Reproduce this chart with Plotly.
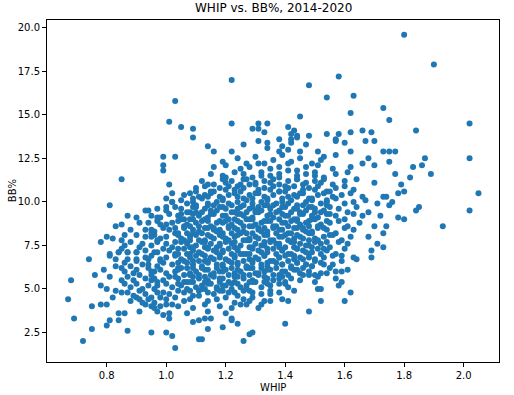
import plotly.graph_objects as go

# (WHIP, BB%) pairs, grouped by region of the cloud
top_pts = [
    [1.80, 19.6], [1.90, 17.9], [1.58, 17.2], [1.22, 17.0], [1.48, 16.7], [1.63, 16.1],
    [1.54, 16.0], [1.03, 15.8], [1.73, 15.4], [1.62, 15.1], [1.45, 14.9], [1.75, 14.7],
    [1.01, 14.6], [1.22, 14.5], [1.31, 14.5], [1.34, 14.5], [2.02, 14.5], [1.05, 14.3],
    [1.41, 14.3], [1.09, 14.2], [1.29, 14.2], [1.31, 14.2], [1.43, 14.1], [1.66, 14.1],
    [1.84, 14.1], [1.33, 14.0], [1.62, 14.0], [1.69, 14.0], [1.54, 13.9], [1.58, 13.9],
    [1.42, 13.9], [1.44, 13.8], [1.48, 13.8], [1.09, 13.7], [1.42, 13.6], [1.57, 13.6],
    [1.38, 13.6], [1.44, 13.7], [1.31, 13.5], [1.34, 13.4], [1.42, 13.4], [1.57, 13.5],
    [1.60, 13.4], [1.67, 13.5], [1.70, 13.5], [1.34, 13.1], [1.14, 13.2], [1.16, 12.9],
    [1.22, 12.9], [1.26, 13.3], [1.39, 13.2], [1.47, 13.3], [1.51, 12.9], [1.53, 12.6],
    [1.57, 12.7], [1.62, 12.9], [1.73, 12.9], [1.75, 12.9], [1.77, 12.9], [1.38, 12.9],
    [1.41, 13.0], [1.45, 12.9], [0.99, 12.6], [1.03, 12.6], [1.68, 12.5], [1.87, 12.5],
    [2.02, 12.5], [1.75, 12.3], [0.99, 12.1], [1.70, 12.1], [1.83, 12.0], [1.86, 12.1],
    [0.99, 11.8], [1.77, 11.6], [1.82, 11.4], [1.89, 11.6], [1.70, 11.1], [1.79, 11.0],
    [1.80, 10.6], [1.78, 10.5], [2.05, 10.5], [1.73, 10.3], [1.74, 10.3], [1.76, 10.0],
    [1.71, 9.9], [1.75, 9.8], [1.85, 9.7], [1.84, 9.5], [2.02, 9.5], [1.68, 9.4],
    [1.72, 9.2], [1.78, 9.1], [1.80, 9.0], [1.74, 8.6], [1.93, 8.6], [1.70, 8.6],
    [1.73, 8.2], [1.68, 8.0], [1.71, 7.6], [1.73, 7.4], [1.69, 7.2], [1.69, 6.8],
]

core_upper = [
    [1.19, 12.3], [1.24, 12.5], [1.27, 12.2], [1.30, 12.6], [1.33, 12.2], [1.36, 12.4],
    [1.39, 12.7], [1.42, 12.3], [1.45, 12.5], [1.49, 12.2], [1.52, 12.4],
    [1.16, 12.0], [1.20, 12.1], [1.25, 11.9], [1.28, 12.0], [1.31, 12.2], [1.35, 11.9],
    [1.38, 12.0], [1.41, 12.2], [1.44, 11.8], [1.47, 12.0], [1.51, 12.1], [1.56, 11.9],
    [1.62, 12.0], [1.66, 12.2],
    [1.15, 11.6], [1.19, 11.5], [1.23, 11.7], [1.26, 11.6], [1.29, 11.4], [1.32, 11.7],
    [1.35, 11.5], [1.38, 11.6], [1.41, 11.8], [1.44, 11.5], [1.47, 11.6], [1.50, 11.7],
    [1.53, 11.4], [1.57, 11.6], [1.61, 11.7],
    [1.12, 11.2], [1.16, 11.0], [1.19, 11.3], [1.22, 11.2], [1.25, 11.0], [1.27, 11.3],
    [1.30, 11.1], [1.33, 11.2], [1.36, 11.3], [1.38, 11.0], [1.41, 11.2], [1.44, 11.3],
    [1.47, 11.1], [1.50, 11.2], [1.53, 11.3], [1.56, 11.0], [1.60, 11.2], [1.64, 11.3],
    [1.10, 10.8], [1.13, 10.9], [1.15, 10.6], [1.18, 10.8], [1.21, 10.9], [1.23, 10.7],
    [1.26, 10.8], [1.28, 11.0], [1.31, 10.7], [1.33, 10.8], [1.36, 10.9], [1.38, 10.6],
    [1.41, 10.8], [1.43, 10.9], [1.46, 10.7], [1.48, 10.8], [1.51, 10.9], [1.54, 10.6],
    [1.57, 10.8], [1.60, 10.9], [1.63, 10.7],
    [1.06, 10.4], [1.08, 10.5], [1.11, 10.3], [1.13, 10.4], [1.16, 10.6], [1.18, 10.3],
    [1.21, 10.4], [1.23, 10.5], [1.26, 10.2], [1.28, 10.4], [1.31, 10.5], [1.33, 10.3],
    [1.36, 10.4], [1.38, 10.6], [1.41, 10.3], [1.43, 10.4], [1.46, 10.5], [1.48, 10.2],
    [1.51, 10.4], [1.53, 10.5], [1.56, 10.3], [1.59, 10.4], [1.62, 10.5], [1.66, 10.3],
    [1.01, 11.0], [1.00, 10.2], [1.02, 10.5], [1.02, 10.0], [1.00, 9.7],
]

core_mid = [
    [1.02, 10.0], [1.05, 10.1], [1.07, 9.9], [1.09, 10.0], [1.12, 10.2], [1.14, 9.9],
    [1.17, 10.0], [1.19, 10.1], [1.22, 9.8], [1.24, 10.0], [1.27, 10.1], [1.29, 9.9],
    [1.32, 10.0], [1.34, 10.2], [1.37, 9.9], [1.39, 10.0], [1.42, 10.1], [1.44, 9.8],
    [1.47, 10.0], [1.49, 10.1], [1.52, 9.9], [1.54, 10.0], [1.57, 10.2], [1.60, 9.9],
    [1.63, 10.0], [1.67, 10.1],
    [0.97, 9.6], [1.00, 9.5], [1.03, 9.7], [1.05, 9.6], [1.08, 9.4], [1.10, 9.7],
    [1.13, 9.6], [1.15, 9.5], [1.18, 9.7], [1.20, 9.6], [1.23, 9.4], [1.25, 9.7],
    [1.28, 9.6], [1.30, 9.5], [1.33, 9.8], [1.35, 9.6], [1.38, 9.5], [1.40, 9.7],
    [1.43, 9.6], [1.45, 9.4], [1.48, 9.7], [1.50, 9.6], [1.53, 9.5], [1.55, 9.7],
    [1.58, 9.6], [1.61, 9.4], [1.64, 9.7],
    [0.95, 9.2], [0.98, 9.1], [1.01, 9.3], [1.04, 9.2], [1.06, 9.0], [1.09, 9.3],
    [1.11, 9.2], [1.14, 9.1], [1.16, 9.3], [1.19, 9.2], [1.21, 9.0], [1.24, 9.3],
    [1.26, 9.2], [1.29, 9.1], [1.31, 9.4], [1.34, 9.2], [1.36, 9.1], [1.39, 9.3],
    [1.41, 9.2], [1.44, 9.0], [1.46, 9.3], [1.49, 9.2], [1.51, 9.1], [1.54, 9.3],
    [1.57, 9.2], [1.60, 9.0], [1.63, 9.3], [1.66, 9.2],
    [0.94, 8.8], [0.97, 8.9], [1.00, 8.7], [1.02, 8.8], [1.05, 9.0], [1.07, 8.7],
    [1.10, 8.8], [1.12, 8.9], [1.15, 8.6], [1.17, 8.8], [1.20, 8.9], [1.22, 8.7],
    [1.25, 8.8], [1.27, 9.0], [1.30, 8.7], [1.32, 8.8], [1.35, 8.9], [1.37, 8.6],
    [1.40, 8.8], [1.42, 8.9], [1.45, 8.7], [1.47, 8.8], [1.50, 9.0], [1.52, 8.7],
    [1.55, 8.8], [1.58, 8.9], [1.61, 8.6], [1.65, 8.8],
    [0.93, 8.4], [0.96, 8.3], [0.99, 8.5], [1.01, 8.4], [1.04, 8.2], [1.06, 8.5],
    [1.09, 8.4], [1.11, 8.3], [1.14, 8.5], [1.16, 8.4], [1.19, 8.2], [1.21, 8.5],
    [1.24, 8.4], [1.26, 8.3], [1.29, 8.6], [1.31, 8.4], [1.34, 8.3], [1.36, 8.5],
    [1.39, 8.4], [1.41, 8.2], [1.44, 8.5], [1.46, 8.4], [1.49, 8.3], [1.51, 8.5],
    [1.54, 8.4], [1.57, 8.2], [1.60, 8.5], [1.63, 8.4],
    [0.93, 8.0], [0.96, 8.1], [0.98, 7.9], [1.00, 8.0], [1.03, 8.2], [1.05, 7.9],
    [1.08, 8.0], [1.10, 8.1], [1.13, 7.8], [1.15, 8.0], [1.18, 8.1], [1.20, 7.9],
    [1.23, 8.0], [1.25, 8.2], [1.28, 7.9], [1.30, 8.0], [1.33, 8.1], [1.35, 7.8],
    [1.38, 8.0], [1.40, 8.1], [1.43, 7.9], [1.45, 8.0], [1.48, 8.2], [1.50, 7.9],
    [1.53, 8.0], [1.56, 8.1], [1.59, 7.8], [1.62, 8.0],
    [0.92, 7.6], [0.95, 7.5], [0.97, 7.7], [1.00, 7.6], [1.02, 7.4], [1.05, 7.7],
    [1.07, 7.6], [1.10, 7.5], [1.12, 7.7], [1.15, 7.6], [1.17, 7.4], [1.20, 7.7],
    [1.22, 7.6], [1.25, 7.5], [1.27, 7.8], [1.30, 7.6], [1.32, 7.5], [1.35, 7.7],
    [1.37, 7.6], [1.40, 7.4], [1.42, 7.7], [1.45, 7.6], [1.47, 7.5], [1.50, 7.7],
    [1.52, 7.6], [1.55, 7.4], [1.58, 7.7], [1.61, 7.6],
    [0.93, 7.2], [0.96, 7.1], [0.99, 7.3], [1.01, 7.2], [1.04, 7.0], [1.06, 7.3],
    [1.09, 7.2], [1.11, 7.1], [1.14, 7.4], [1.16, 7.2], [1.19, 7.1], [1.21, 7.3],
    [1.24, 7.2], [1.26, 7.0], [1.29, 7.3], [1.31, 7.2], [1.34, 7.1], [1.36, 7.3],
    [1.39, 7.2], [1.41, 7.0], [1.44, 7.3], [1.46, 7.2], [1.49, 7.1], [1.51, 7.3],
    [1.54, 7.2], [1.57, 7.0], [1.60, 7.3],
]

core_low = [
    [0.93, 6.8], [0.95, 6.9], [0.98, 6.7], [1.00, 6.8], [1.03, 7.0], [1.05, 6.7],
    [1.08, 6.8], [1.10, 6.9], [1.13, 6.6], [1.15, 6.8], [1.18, 6.9], [1.20, 6.7],
    [1.23, 6.8], [1.25, 7.0], [1.28, 6.7], [1.30, 6.8], [1.33, 6.9], [1.35, 6.6],
    [1.38, 6.8], [1.40, 6.9], [1.43, 6.7], [1.45, 6.8], [1.48, 7.0], [1.50, 6.7],
    [1.53, 6.8], [1.56, 6.9], [1.59, 6.6],
    [0.94, 6.4], [0.97, 6.3], [0.99, 6.5], [1.02, 6.4], [1.04, 6.2], [1.07, 6.5],
    [1.09, 6.4], [1.12, 6.3], [1.14, 6.6], [1.17, 6.4], [1.19, 6.3], [1.22, 6.5],
    [1.24, 6.4], [1.27, 6.2], [1.29, 6.5], [1.32, 6.4], [1.34, 6.3], [1.37, 6.5],
    [1.39, 6.4], [1.42, 6.2], [1.44, 6.5], [1.47, 6.4], [1.49, 6.3], [1.52, 6.5],
    [1.56, 6.4],
    [0.95, 6.0], [0.98, 6.1], [1.00, 5.9], [1.03, 6.0], [1.05, 6.2], [1.08, 5.9],
    [1.10, 6.0], [1.13, 6.1], [1.15, 5.8], [1.18, 6.0], [1.20, 6.1], [1.23, 5.9],
    [1.25, 6.0], [1.28, 6.2], [1.30, 5.9], [1.33, 6.0], [1.35, 6.1], [1.38, 5.8],
    [1.40, 6.0], [1.43, 6.1], [1.45, 5.9], [1.48, 6.0],
    [0.96, 5.6], [0.99, 5.5], [1.01, 5.7], [1.04, 5.6], [1.06, 5.4], [1.09, 5.7],
    [1.11, 5.6], [1.14, 5.5], [1.16, 5.7], [1.19, 5.6], [1.21, 5.4], [1.24, 5.7],
    [1.26, 5.6], [1.29, 5.5], [1.31, 5.8], [1.34, 5.6], [1.36, 5.5], [1.39, 5.7],
    [1.42, 5.6], [1.45, 5.5],
    [0.97, 5.2], [1.00, 5.3], [1.02, 5.1], [1.05, 5.2], [1.07, 5.4], [1.10, 5.1],
    [1.12, 5.2], [1.15, 5.3], [1.17, 5.0], [1.20, 5.2], [1.22, 5.3], [1.25, 5.1],
    [1.27, 5.2], [1.30, 5.4], [1.32, 5.1], [1.35, 5.2], [1.38, 5.3], [1.41, 5.1],
    [0.99, 4.8], [1.01, 4.7], [1.04, 4.9], [1.06, 4.8], [1.09, 4.6], [1.11, 4.9],
    [1.14, 4.8], [1.16, 4.7], [1.19, 4.9], [1.21, 4.8], [1.24, 4.6], [1.26, 4.9],
    [1.29, 4.8], [1.32, 4.7], [1.35, 4.9], [1.38, 4.8],
    [1.00, 4.4], [1.03, 4.5], [1.06, 4.3], [1.08, 4.4], [1.11, 4.6], [1.14, 4.3],
    [1.17, 4.4], [1.20, 4.5], [1.23, 4.2], [1.26, 4.4], [1.29, 4.5], [1.33, 4.3],
    [1.04, 4.0], [1.09, 3.9], [1.13, 4.1], [1.18, 4.0], [1.22, 3.9], [1.27, 4.1],
    [1.31, 3.9], [1.32, 4.1], [1.35, 4.7], [1.28, 4.3], [1.25, 4.1],
]

core_fill = [
    [1.10, 9.8], [1.16, 9.8], [1.21, 9.9], [1.26, 9.8], [1.31, 9.7], [1.36, 9.8],
    [1.41, 9.9], [1.46, 9.8],
    [1.07, 9.4], [1.12, 9.4], [1.17, 9.5], [1.22, 9.4], [1.27, 9.4], [1.32, 9.5],
    [1.37, 9.4], [1.42, 9.4], [1.47, 9.5], [1.52, 9.4],
    [1.08, 9.0], [1.13, 9.0], [1.18, 8.9], [1.23, 9.0], [1.28, 9.0], [1.33, 8.9],
    [1.38, 9.0], [1.43, 9.0], [1.48, 8.9],
    [1.06, 8.6], [1.11, 8.6], [1.16, 8.5], [1.21, 8.6], [1.26, 8.6], [1.31, 8.5],
    [1.36, 8.6], [1.41, 8.6], [1.46, 8.5], [1.51, 8.6],
    [1.07, 8.2], [1.12, 8.2], [1.17, 8.3], [1.22, 8.2], [1.27, 8.2], [1.32, 8.3],
    [1.37, 8.2], [1.42, 8.2], [1.47, 8.3],
    [1.06, 7.8], [1.11, 7.8], [1.16, 7.9], [1.21, 7.8], [1.26, 7.8], [1.31, 7.9],
    [1.36, 7.8], [1.41, 7.8], [1.46, 7.9], [1.51, 7.8],
    [1.08, 7.4], [1.13, 7.4], [1.18, 7.5], [1.23, 7.4], [1.28, 7.4], [1.33, 7.5],
    [1.38, 7.4], [1.43, 7.4], [1.48, 7.5],
    [1.07, 7.0], [1.12, 7.0], [1.17, 7.1], [1.22, 7.0], [1.27, 7.0], [1.32, 7.1],
    [1.37, 7.0], [1.42, 7.0], [1.47, 7.1], [1.52, 7.0],
    [1.06, 6.6], [1.11, 6.6], [1.16, 6.7], [1.21, 6.6], [1.26, 6.6], [1.31, 6.7],
    [1.36, 6.6], [1.41, 6.6], [1.46, 6.7],
    [1.07, 6.2], [1.12, 6.2], [1.17, 6.2], [1.22, 6.2], [1.27, 6.3], [1.32, 6.2],
    [1.37, 6.2], [1.42, 6.3],
    [1.06, 5.8], [1.11, 5.8], [1.16, 5.9], [1.21, 5.8], [1.26, 5.8], [1.31, 5.9],
    [1.36, 5.8], [1.41, 5.8],
    [1.08, 5.4], [1.13, 5.4], [1.18, 5.4], [1.23, 5.4], [1.28, 5.4], [1.33, 5.4],
    [1.07, 5.0], [1.12, 5.0], [1.17, 5.1], [1.22, 5.0], [1.27, 5.0],
]

core_fill2 = [
    [1.20, 11.4], [1.26, 11.3], [1.32, 11.5], [1.38, 11.4], [1.44, 11.3], [1.50, 11.5],
    [1.14, 11.0], [1.20, 11.1], [1.24, 10.9], [1.30, 11.0], [1.35, 11.1], [1.40, 10.9],
    [1.46, 11.0], [1.52, 11.1],
    [1.10, 10.6], [1.15, 10.5], [1.20, 10.7], [1.25, 10.6], [1.30, 10.5], [1.35, 10.7],
    [1.40, 10.6], [1.45, 10.5], [1.50, 10.7], [1.55, 10.6],
    [1.09, 10.2], [1.14, 10.3], [1.19, 10.2], [1.24, 10.3], [1.29, 10.2], [1.34, 10.1],
    [1.39, 10.2], [1.44, 10.3], [1.49, 10.2], [1.54, 10.1],
    [1.09, 9.7], [1.14, 9.8], [1.19, 9.7], [1.24, 9.6], [1.29, 9.7], [1.34, 9.8],
    [1.39, 9.7], [1.44, 9.6], [1.49, 9.7], [1.54, 9.8],
    [1.05, 9.3], [1.10, 9.4], [1.15, 9.3], [1.20, 9.2], [1.25, 9.3], [1.30, 9.4],
    [1.35, 9.3], [1.40, 9.2], [1.45, 9.3], [1.50, 9.4], [1.55, 9.3],
    [1.04, 8.9], [1.09, 9.0], [1.14, 8.9], [1.19, 8.8], [1.24, 8.9], [1.29, 9.0],
    [1.34, 8.9], [1.39, 8.8], [1.44, 8.9], [1.49, 9.0], [1.54, 8.9],
    [1.03, 8.5], [1.08, 8.6], [1.13, 8.5], [1.18, 8.4], [1.23, 8.5], [1.28, 8.6],
    [1.33, 8.5], [1.38, 8.4], [1.43, 8.5], [1.48, 8.6], [1.53, 8.5],
    [1.04, 8.1], [1.09, 8.2], [1.14, 8.1], [1.19, 8.0], [1.24, 8.1], [1.29, 8.2],
    [1.34, 8.1], [1.39, 8.0], [1.44, 8.1], [1.49, 8.2], [1.55, 8.1],
    [1.03, 7.7], [1.08, 7.8], [1.13, 7.7], [1.18, 7.6], [1.23, 7.7], [1.28, 7.8],
    [1.33, 7.7], [1.38, 7.6], [1.43, 7.7], [1.48, 7.8], [1.54, 7.7],
    [1.04, 7.3], [1.09, 7.4], [1.14, 7.3], [1.19, 7.2], [1.24, 7.3], [1.29, 7.4],
    [1.34, 7.3], [1.39, 7.2], [1.44, 7.3], [1.49, 7.4], [1.53, 7.3],
    [1.03, 6.9], [1.08, 7.0], [1.13, 6.9], [1.18, 6.8], [1.23, 6.9], [1.28, 7.0],
    [1.33, 6.9], [1.38, 6.8], [1.43, 6.9], [1.48, 6.8],
    [1.04, 6.5], [1.09, 6.6], [1.14, 6.5], [1.19, 6.4], [1.24, 6.5], [1.29, 6.6],
    [1.34, 6.5], [1.39, 6.4], [1.44, 6.5], [1.50, 6.6],
    [1.04, 6.1], [1.09, 6.2], [1.14, 6.1], [1.19, 6.0], [1.24, 6.1], [1.29, 6.2],
    [1.34, 6.1], [1.39, 6.0], [1.44, 6.1],
    [1.03, 5.7], [1.08, 5.8], [1.13, 5.7], [1.18, 5.6], [1.23, 5.7], [1.28, 5.8],
    [1.33, 5.7], [1.38, 5.6],
    [1.04, 5.3], [1.09, 5.4], [1.14, 5.3], [1.19, 5.2], [1.24, 5.3], [1.29, 5.4],
    [1.34, 5.3],
    [1.08, 4.9], [1.13, 5.0], [1.18, 4.9], [1.23, 4.8], [1.28, 4.9],
]

left_pts = [
    [0.85, 11.3], [0.81, 9.8], [0.93, 9.5], [0.94, 9.5], [0.90, 9.1], [0.97, 9.1],
    [0.83, 8.6], [0.85, 8.7], [0.98, 8.7], [0.80, 8.0], [0.86, 8.1], [0.90, 8.1],
    [0.95, 8.2], [0.95, 8.4], [0.95, 8.0], [0.85, 7.8], [0.97, 7.8], [0.86, 7.5],
    [0.85, 7.3], [0.84, 7.1], [0.91, 7.4], [0.81, 7.0], [0.87, 7.1], [0.90, 7.1],
    [0.97, 7.1], [0.74, 6.7], [0.68, 5.5], [0.67, 4.4], [0.69, 3.3], [0.72, 2.0],
    [0.75, 2.7], [0.75, 4.0], [0.78, 4.1], [0.80, 4.1], [0.80, 2.9], [0.81, 3.2],
    [0.84, 3.2], [0.84, 3.6], [0.86, 3.6], [0.87, 2.6], [0.95, 2.5], [0.91, 3.7],
    [0.80, 5.0], [0.83, 4.9], [0.85, 4.8], [0.81, 5.7], [0.79, 6.1], [0.83, 6.3],
    [0.85, 6.2], [0.81, 6.9], [0.84, 7.1], [0.83, 6.7], [0.87, 7.1], [0.90, 7.1],
    [0.87, 6.7], [0.90, 6.7], [0.90, 4.5], [0.91, 4.4], [0.93, 4.1], [0.95, 4.0],
    [0.96, 3.9], [0.97, 3.7], [0.78, 7.7], [0.82, 7.9], [0.88, 7.7], [0.88, 8.4],
    [0.91, 8.8], [0.87, 9.2], [0.76, 5.8], [0.78, 5.2], [0.82, 4.5],
    [0.86, 6.0], [0.88, 6.3], [0.90, 6.1], [0.92, 6.4], [0.94, 6.2], [0.96, 6.0],
    [0.87, 5.7], [0.89, 5.5], [0.91, 5.8], [0.93, 5.6], [0.95, 5.8], [0.97, 5.4],
    [0.86, 5.3], [0.88, 5.1], [0.90, 5.3], [0.92, 5.0], [0.94, 5.2], [0.96, 5.0],
    [0.87, 4.8], [0.89, 4.6], [0.91, 4.9], [0.93, 4.7], [0.95, 4.5], [0.97, 4.8],
    [0.88, 4.3], [0.92, 4.2], [0.94, 4.4], [0.96, 4.2], [0.98, 4.5], [0.86, 6.5],
    [0.90, 6.6], [0.94, 6.7], [0.98, 6.6], [0.89, 5.9], [0.95, 5.5], [0.85, 5.5],
]

low_pts = [
    [1.03, 1.6], [1.00, 2.5], [1.02, 2.3], [1.11, 2.1], [1.12, 2.1], [1.14, 2.7],
    [1.19, 2.8], [1.09, 3.1], [1.11, 3.2], [1.13, 3.3], [1.15, 3.3], [1.07, 3.6],
    [1.14, 3.7], [1.20, 3.6], [1.22, 3.3], [1.22, 3.2], [1.24, 3.0], [1.26, 2.0],
    [1.28, 2.4], [1.29, 2.5], [0.99, 3.5], [1.01, 3.6], [1.01, 3.3], [0.98, 4.0],
    [1.00, 4.1], [1.02, 4.1], [1.40, 3.0], [1.48, 3.7], [1.39, 4.4], [1.41, 4.3],
    [1.52, 4.3], [1.60, 4.3], [1.62, 4.8], [1.43, 4.9], [1.51, 5.0], [1.52, 5.0],
    [1.50, 5.4], [1.58, 5.2], [1.59, 5.4], [1.57, 5.6], [1.59, 6.0], [1.57, 6.0],
    [1.54, 5.9], [1.55, 6.2], [1.53, 6.4], [1.61, 6.1], [1.63, 6.8], [1.64, 6.7],
    [1.59, 6.9], [1.51, 5.7], [1.52, 5.9], [1.50, 5.8], [1.40, 5.3], [1.40, 5.4],
    [1.46, 5.8], [1.48, 5.8], [1.46, 6.2], [1.47, 6.4], [1.49, 6.3], [1.35, 4.3],
]

pts = top_pts + core_upper + core_mid + core_low + core_fill + core_fill2 + left_pts + low_pts
whip = [p[0] for p in pts]
bb_pct = [p[1] for p in pts]

x_ticks = [0.8, 1.0, 1.2, 1.4, 1.6, 1.8, 2.0]
y_ticks = [2.5, 5.0, 7.5, 10.0, 12.5, 15.0, 17.5, 20.0]

fig = go.Figure(go.Scatter(
    x=whip, y=bb_pct, mode="markers",
    marker=dict(color="#1f77b4", size=6, line=dict(width=0)),
    hoverinfo="skip",
))

axis_common = dict(
    showgrid=False, zeroline=False, showline=True, linecolor="black", linewidth=1,
    mirror=True, ticks="outside", ticklen=4, tickwidth=1, tickcolor="black",
    automargin=False,
    tickfont=dict(family="DejaVu Sans", size=10, color="black"),
)

fig.update_layout(
    width=514, height=395,
    margin=dict(l=47, r=15, t=20, b=33),
    paper_bgcolor="white", plot_bgcolor="white",
    showlegend=False,
    font=dict(family="DejaVu Sans", color="black"),
    xaxis=dict(range=[0.599, 2.119], tickvals=x_ticks,
               ticktext=[f"{v:.1f}" for v in x_ticks], **axis_common),
    yaxis=dict(range=[0.8, 20.45], tickvals=y_ticks,
               ticktext=[f"{v:.1f}" for v in y_ticks], **axis_common),
    annotations=[
        dict(text="WHIP vs. BB%, 2014-2020", xref="paper", yref="paper", x=0.5, y=1.0,
             yshift=3, xanchor="center", yanchor="bottom", showarrow=False,
             font=dict(size=12, color="black")),
        dict(text="WHIP", xref="paper", yref="paper", x=0.5, y=-0.075,
             xanchor="center", yanchor="middle", showarrow=False,
             font=dict(size=10, color="black")),
        dict(text="BB%", xref="paper", yref="paper", x=-0.077, y=0.5, textangle=-90,
             xanchor="center", yanchor="middle", showarrow=False,
             font=dict(size=10, color="black")),
    ],
)

fig.write_html(
    "out.html",
    config={"displayModeBar": False, "staticPlot": True},
    post_script="document.body.style.margin='0';document.body.style.padding='0';",
)
